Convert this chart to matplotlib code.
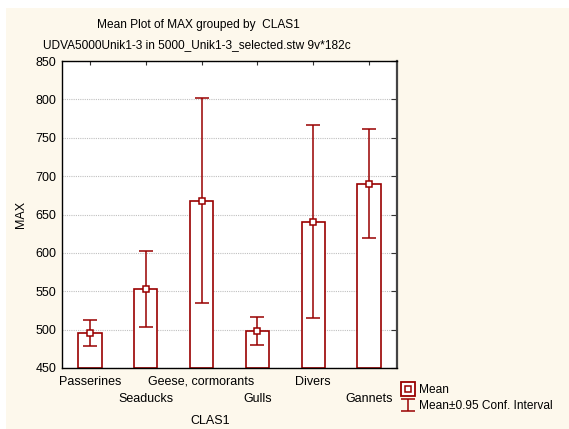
import numpy as np
import matplotlib
matplotlib.use("Agg")
import matplotlib.pyplot as plt
from matplotlib.patches import Rectangle
from matplotlib.lines import Line2D

plt.rcParams['font.family'] = ['Liberation Sans', 'DejaVu Sans']

# data
groups = ['Passerines', 'Seaducks', 'Geese, cormorants', 'Gulls', 'Divers', 'Gannets']
means = [495, 553, 668, 498, 640, 690]
ci_low = [479, 504, 535, 480, 515, 619]
ci_high = [513, 602, 802, 517, 767, 761]

red = '#990000'
cream = '#fdf8ec'

fig = plt.figure(figsize=(5.69, 4.29), dpi=100, facecolor='white')
fig.patches.append(Rectangle((6 / 569, 0), 1, 1 - 8 / 429, transform=fig.transFigure,
                             facecolor=cream, edgecolor='none', zorder=-10))
ax = fig.add_axes([62 / 569, 1 - 368 / 429, 335 / 569, 307 / 429])
ax.set_facecolor('white')

x = np.arange(len(groups))
means = np.array(means)
lo = means - np.array(ci_low)
hi = np.array(ci_high) - means

ax.bar(x, means - 450, bottom=450, width=0.42, facecolor='white', edgecolor=red,
       linewidth=1.2, zorder=2)
ax.errorbar(x, means, yerr=[lo, hi], fmt='none', ecolor=red, elinewidth=1.1,
            capsize=5, capthick=1.1, zorder=3)
ax.plot(x, means, 's', markerfacecolor='white', markeredgecolor=red, markersize=5,
        markeredgewidth=1.1, zorder=4)

ax.set_xlim(-0.5, 5.5)
ax.set_ylim(450, 850)
ax.set_yticks(np.arange(450, 851, 50))
ax.yaxis.grid(True, linestyle=(0, (1, 1)), color='#c0c0c0', linewidth=0.8, zorder=0)
ax.set_axisbelow(True)

ax.set_xticks(x)
ax.set_xticklabels([])
ax.tick_params(axis='x', direction='in', top=True, bottom=True, length=3, color='#333333')
ax.tick_params(axis='y', direction='in', left=False, right=True, length=4,
               labelsize=9, color='#333333', pad=4)
for i, g in enumerate(groups):
    off = 14 if i % 2 == 0 else 31
    ax.annotate(g, xy=(i, 0), xycoords=('data', 'axes fraction'), xytext=(0, -off),
                textcoords='offset pixels', ha='center', va='center', fontsize=9)

for s in ['left', 'bottom', 'top']:
    ax.spines[s].set_color('black')
    ax.spines[s].set_linewidth(1.0)
ax.spines['right'].set_color('#444444')
ax.spines['right'].set_linewidth(1.6)

ax.set_ylabel('MAX', fontsize=9, labelpad=6)
fig.text(210 / 569, 1 - 421 / 429, 'CLAS1', ha='center', va='center', fontsize=9)

fig.text(198 / 569, 1 - 25 / 429, 'Mean Plot of MAX grouped by  CLAS1',
         ha='center', va='center', fontsize=8.6)
fig.text(197 / 569, 1 - 45 / 429, 'UDVA5000Unik1-3 in 5000_Unik1-3_selected.stw 9v*182c',
         ha='center', va='center', fontsize=8.6)

# legend handles: double square for the mean, capped bar for the interval
h_out = Line2D([], [], marker='s', linestyle='none', markerfacecolor='white',
               markeredgecolor=red, markersize=10, markeredgewidth=1.3)
h_in = Line2D([], [], marker='s', linestyle='none', markerfacecolor='white',
              markeredgecolor=red, markersize=5, markeredgewidth=1.1)
h2 = ax.errorbar([np.nan], [np.nan], yerr=[[1], [1]], fmt='none', ecolor=red,
                 elinewidth=1.1, capsize=5, capthick=1.1)
fig.legend([(h_out, h_in), h2], ['Mean', 'Mean\u00b10.95 Conf. Interval'], loc='center left',
           bbox_to_anchor=(393 / 569, 1 - 398 / 429), frameon=False, fontsize=8.6,
           handlelength=0.9, handletextpad=0.45, labelspacing=0.35, borderpad=0.3)

plt.savefig('out.png', dpi=100, facecolor=fig.get_facecolor())
